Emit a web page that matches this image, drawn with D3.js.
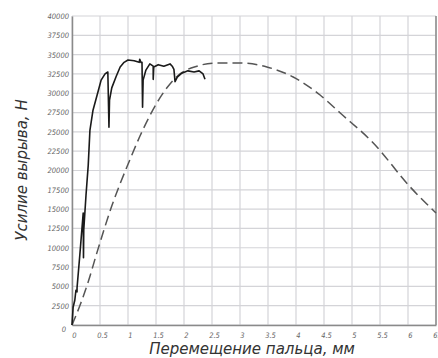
<!DOCTYPE html>
<html>
<head>
<meta charset="utf-8">
<script src="https://cdn.jsdelivr.net/npm/d3@7"></script>
<style>
  body { margin: 0; background: #fff; }
  text { font-family: "DejaVu Sans", sans-serif; font-style: italic; }
</style>
</head>
<body>
<div id="chart"></div>
<script>
// experimental curve (solid)
var expX = [0, 0.02, 0.05, 0.07, 0.09, 0.09, 0.14, 0.2, 0.205, 0.21, 0.25, 0.29, 0.32, 0.375, 0.45, 0.52, 0.59, 0.64, 0.66, 0.67, 0.71, 0.79, 0.86, 0.93, 1.0, 1.11, 1.2, 1.21, 1.23, 1.25, 1.26, 1.27, 1.32, 1.39, 1.45, 1.45, 1.46, 1.54, 1.64, 1.75, 1.79, 1.82, 1.84, 1.88, 1.96, 2.07, 2.18, 2.27, 2.34, 2.375];
var expY = [0, 2300, 3200, 4500, 4300, 4800, 9100, 14500, 8700, 12300, 16800, 20700, 25200, 27800, 29800, 31700, 32500, 32750, 25600, 29100, 30700, 32200, 33400, 34000, 34300, 34200, 34000, 34400, 34000, 34000, 28200, 31700, 33000, 33800, 33500, 31800, 33400, 33700, 33500, 33800, 33500, 33100, 31500, 32100, 32600, 32900, 32750, 32900, 32500, 31800];

// calculated curve (dashed)
var calcX = [0, 0.14, 0.29, 0.43, 0.57, 0.71, 0.86, 1.04, 1.21, 1.39, 1.57, 1.75, 1.93, 2.23, 2.59, 3.0, 3.48, 3.95, 4.43, 4.79, 5.38, 6.04, 6.5];
var calcY = [0, 2500, 5600, 9000, 12300, 15400, 18300, 21500, 24400, 27100, 29400, 31200, 32500, 33500, 33920, 33920, 33400, 32100, 29770, 27440, 23560, 17860, 14500];

var xTicks = [0, 0.5, 1, 1.5, 2, 2.5, 3, 3.5, 4, 4.5, 5, 5.5, 6, 6.5];
var yTicks = [0, 2500, 5000, 7500, 10000, 12500, 15000, 17500, 20000, 22500, 25000, 27500, 30000, 32500, 35000, 37500, 40000];

var xTitle = "Перемещение пальца, мм";
var yTitle = "Усилие вырыва, Н";

var width = 438, height = 358;
var margin = {left: 72, right: 2, top: 16, bottom: 33};

var svg = d3.select("#chart").append("svg")
    .attr("width", width)
    .attr("height", height);

var x = d3.scaleLinear().domain([0, 6.5]).range([margin.left, width - margin.right]);
var y = d3.scaleLinear().domain([0, 40000]).range([height - margin.bottom, margin.top]);

// grid
svg.append("g").selectAll("line.v")
    .data(xTicks).enter().append("line")
    .attr("x1", function(d) { return x(d); })
    .attr("x2", function(d) { return x(d); })
    .attr("y1", y(0))
    .attr("y2", y(40000))
    .attr("stroke", "#d4d4d8")
    .attr("stroke-width", 1.2);

svg.append("g").selectAll("line.h")
    .data(yTicks).enter().append("line")
    .attr("x1", x(0))
    .attr("x2", x(6.5))
    .attr("y1", function(d) { return y(d); })
    .attr("y2", function(d) { return y(d); })
    .attr("stroke", "#d4d4d8")
    .attr("stroke-width", 1.2);

// axes
var xAxis = d3.axisBottom(x).tickValues(xTicks).tickSize(0).tickPadding(8)
    .tickFormat(function(d) { return String(d); });
var yAxis = d3.axisLeft(y).tickValues(yTicks).tickSize(0).tickPadding(3)
    .tickFormat(function(d) { return String(d); });

var gx = svg.append("g").attr("transform", "translate(0," + y(0) + ")").call(xAxis);
var gy = svg.append("g").attr("transform", "translate(" + x(0) + ",0)").call(yAxis);

[gx, gy].forEach(function(g) {
  g.select(".domain").attr("stroke", "#8a8a8a").attr("stroke-width", 1.5);
  g.selectAll("text")
    .attr("fill", "#666")
    .style("font-family", "'DejaVu Sans Condensed', 'DejaVu Sans', sans-serif")
    .style("font-style", "italic")
    .style("font-size", "7.5px");
});
gx.selectAll("text").attr("dx", 2);
gy.selectAll("text").filter(function(d) { return d === 0; }).attr("dy", "0.9em").attr("dx", -3);

// right border
svg.append("line")
    .attr("x1", x(6.5)).attr("x2", x(6.5))
    .attr("y1", y(0)).attr("y2", y(40000))
    .attr("stroke", "#8a8a8a")
    .attr("stroke-width", 1.5);

// curves
var calcLine = d3.line()
    .x(function(d, i) { return x(calcX[i]); })
    .y(function(d, i) { return y(calcY[i]); })
    .curve(d3.curveMonotoneX);

svg.append("path")
    .datum(calcY)
    .attr("d", calcLine)
    .attr("fill", "none")
    .attr("stroke", "#555")
    .attr("stroke-width", 1.5)
    .attr("stroke-dasharray", "10,5");

var expLine = d3.line()
    .x(function(d, i) { return x(expX[i]); })
    .y(function(d, i) { return y(expY[i]); });

svg.append("path")
    .datum(expY)
    .attr("d", expLine)
    .attr("fill", "none")
    .attr("stroke", "#1a1a1a")
    .attr("stroke-width", 1.6)
    .attr("stroke-linejoin", "round");

// titles
svg.append("text")
    .attr("x", 252)
    .attr("y", 354)
    .attr("text-anchor", "middle")
    .attr("fill", "#333")
    .style("font-size", "15px")
    .text(xTitle);

svg.append("text")
    .attr("transform", "translate(27,170) rotate(-90)")
    .attr("text-anchor", "middle")
    .attr("fill", "#333")
    .style("font-size", "15px")
    .text(yTitle);
</script>
</body>
</html>
